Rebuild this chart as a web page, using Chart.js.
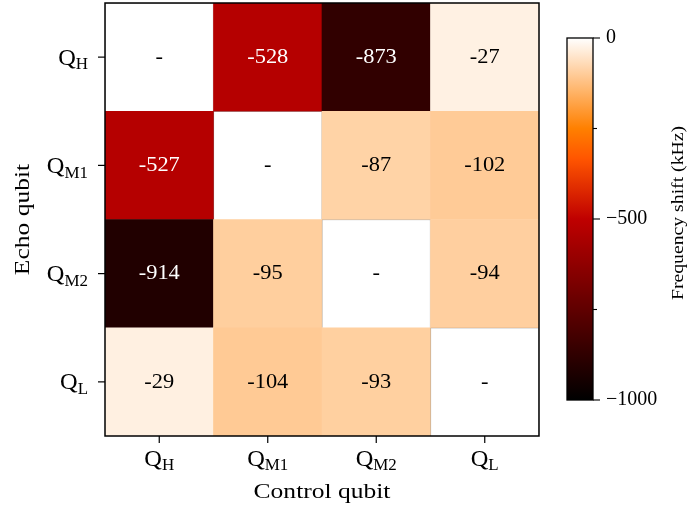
<!DOCTYPE html>
<html>
<head>
<meta charset="utf-8">
<script src="https://cdn.jsdelivr.net/npm/chart.js"></script>
<style>
  body { margin: 0; background: #fff; }
  #wrap { position: relative; width: 688px; height: 510px; }
  #heat { position: absolute; left: 0; top: 0; }
  #cbar { position: absolute; left: 540px; top: 0; }
</style>
</head>
<body>
<div id="wrap">
  <canvas id="heat" width="688" height="510"></canvas>
  <canvas id="cbar" width="148" height="510"></canvas>
</div>
<script>
// qubit labels: Q with a subscript
const controlQubits = ['H', 'M1', 'M2', 'L'];
const echoQubits = ['H', 'M1', 'M2', 'L'];   // rows, top to bottom

// frequency shift (kHz), row = echo qubit, column = control qubit
const rowQH  = [null, -528, -873, -27];
const rowQM1 = [-527, null, -87, -102];
const rowQM2 = [-914, -95, null, -94];
const rowQL  = [-29, -104, -93, null];
const shifts = [rowQH, rowQM1, rowQM2, rowQL];

const cbarMin = -1000;
const cbarMax = 0;
const cbarMajorTicks = [-1000, -500, 0];
const cbarMinorTicks = [-750, -250];

const SERIF = '"Liberation Serif", "DejaVu Serif", serif';
const STRETCH = 1.16;   // Times is narrower than Computer Modern

// matplotlib gist_heat
function gistHeat(t) {
    const c = v => Math.round(255 * Math.min(1, Math.max(0, v)));
    return `rgb(${c(1.5 * t)}, ${c(2 * t - 1)}, ${c(4 * t - 3)})`;
}
function colorFor(v) {
    if (v === null) return '#ffffff';
    return gistHeat((v - cbarMin) / (cbarMax - cbarMin));
}

// centred text, optionally a little wider
function wideText(ctx, txt, x, y, size, stretch) {
    ctx.save();
    ctx.translate(x, y);
    ctx.scale(stretch || STRETCH, 1);
    ctx.font = size + 'px ' + SERIF;
    ctx.textAlign = 'center';
    ctx.textBaseline = 'middle';
    ctx.fillText(txt, 0, 0);
    ctx.restore();
}

// draw Q with a roman subscript, anchored by align at (x, y middle)
function drawQ(ctx, sub, x, y, align, size) {
    const subSize = Math.round(size * 0.7);
    ctx.save();
    ctx.font = size + 'px ' + SERIF;
    const wq = ctx.measureText('Q').width * 1.06;
    ctx.font = subSize + 'px ' + SERIF;
    const ws = ctx.measureText(sub).width * 1.06;
    const total = wq + ws;
    let x0 = x;
    if (align === 'right') x0 = x - total;
    if (align === 'center') x0 = x - total / 2;
    const base = y + size * 0.33;
    ctx.translate(x0, base);
    ctx.scale(1.06, 1);
    ctx.textAlign = 'left';
    ctx.textBaseline = 'alphabetic';
    ctx.fillStyle = '#000';
    ctx.font = size + 'px ' + SERIF;
    ctx.fillText('Q', 0, 0);
    ctx.font = subSize + 'px ' + SERIF;
    ctx.fillText(sub, wq / 1.06, size * 0.2);
    ctx.restore();
}

// one stacked dataset per row, bottom row first
const rowsBottomUp = shifts.map((row, r) => ({ row, r })).reverse();
const heatDatasets = rowsBottomUp.map(({ row, r }) => ({
    label: 'Q' + echoQubits[r],
    data: row.map(() => 1),
    shifts: row,
    backgroundColor: row.map(v => colorFor(v)),
    borderColor: row.map(v => v === null ? 'rgba(0,0,0,0.22)' : 'rgba(0,0,0,0)'),
    borderWidth: row.map(v => v === null ? 1 : 0),
    barPercentage: 1,
    categoryPercentage: 1
}));

const heatPlugin = {
    id: 'heatDecor',
    afterDatasetsDraw(chart) {
        const ctx = chart.ctx;
        const area = chart.chartArea;
        const xs = chart.scales.x;
        const ys = chart.scales.y;
        ctx.save();

        // cell annotations
        chart.data.datasets.forEach((ds, d) => {
            const meta = chart.getDatasetMeta(d);
            meta.data.forEach((bar, i) => {
                const v = ds.shifts[i];
                const cy = (bar.y + bar.base) / 2;
                ctx.fillStyle = (v !== null && v < -500) ? '#fff' : '#000';
                wideText(ctx, v === null ? '-' : String(v), bar.x, cy, 22, 1.02);
            });
        });

        // frame
        ctx.strokeStyle = '#000';
        ctx.lineWidth = 1.5;
        ctx.strokeRect(area.left, area.top, area.right - area.left, area.bottom - area.top);

        // x ticks and labels
        ctx.lineWidth = 1.2;
        controlQubits.forEach((q, i) => {
            const px = xs.getPixelForValue(i);
            ctx.beginPath();
            ctx.moveTo(px, area.bottom);
            ctx.lineTo(px, area.bottom + 7);
            ctx.stroke();
            drawQ(ctx, q, px, area.bottom + 22, 'center', 23);
        });

        // y ticks and labels
        echoQubits.forEach((q, r) => {
            const py = ys.getPixelForValue(echoQubits.length - r - 0.5);
            ctx.beginPath();
            ctx.moveTo(area.left, py);
            ctx.lineTo(area.left - 7, py);
            ctx.stroke();
            drawQ(ctx, q, area.left - 17, py, 'right', 23);
        });

        // axis titles
        ctx.fillStyle = '#000';
        wideText(ctx, 'Control qubit', (area.left + area.right) / 2, 492, 22);
        ctx.translate(23, (area.top + area.bottom) / 2);
        ctx.rotate(-Math.PI / 2);
        wideText(ctx, 'Echo qubit', 0, 0, 22);
        ctx.restore();
    }
};

new Chart(document.getElementById('heat'), {
    type: 'bar',
    data: {
        labels: controlQubits.map(q => 'Q' + q),
        datasets: heatDatasets
    },
    options: {
        responsive: false,
        devicePixelRatio: 1,
        animation: false,
        layout: { padding: { left: 105, top: 3, right: 149, bottom: 74 } },
        plugins: { legend: { display: false }, tooltip: { enabled: false } },
        scales: {
            x: { stacked: true, display: false },
            y: { stacked: true, display: false, min: 0, max: echoQubits.length }
        }
    },
    plugins: [heatPlugin]
});

// colorbar
const cbarPlugin = {
    id: 'cbarDecor',
    afterDatasetsDraw(chart) {
        const ctx = chart.ctx;
        const area = chart.chartArea;
        const ys = chart.scales.y;
        ctx.save();
        ctx.strokeStyle = '#000';
        ctx.lineWidth = 1.3;
        ctx.strokeRect(area.left, area.top, area.right - area.left, area.bottom - area.top);

        ctx.lineWidth = 1.1;
        cbarMinorTicks.forEach(v => {
            const py = ys.getPixelForValue(v);
            ctx.beginPath();
            ctx.moveTo(area.right, py);
            ctx.lineTo(area.right + 4, py);
            ctx.stroke();
        });
        ctx.font = '20px ' + SERIF;
        ctx.fillStyle = '#000';
        ctx.textAlign = 'left';
        ctx.textBaseline = 'middle';
        cbarMajorTicks.forEach(v => {
            const py = ys.getPixelForValue(v);
            ctx.beginPath();
            ctx.moveTo(area.right, py);
            ctx.lineTo(area.right + 7, py);
            ctx.stroke();
            const txt = v < 0 ? '\u2212' + Math.abs(v) : String(v);
            ctx.fillText(txt, area.right + 13, py);
        });

        ctx.translate(139, (area.top + area.bottom) / 2 - 6);
        ctx.rotate(-Math.PI / 2);
        wideText(ctx, 'Frequency shift (kHz)', 0, 0, 17);
        ctx.restore();
    }
};

new Chart(document.getElementById('cbar'), {
    type: 'bar',
    data: {
        labels: [''],
        datasets: [{
            data: [[cbarMin, cbarMax]],
            barPercentage: 1,
            categoryPercentage: 1,
            backgroundColor(c) {
                const area = c.chart.chartArea;
                if (!area) return '#888';
                const g = c.chart.ctx.createLinearGradient(0, area.bottom, 0, area.top);
                for (let k = 0; k <= 60; k++) {
                    g.addColorStop(k / 60, gistHeat(k / 60));
                }
                return g;
            }
        }]
    },
    options: {
        responsive: false,
        devicePixelRatio: 1,
        animation: false,
        layout: { padding: { left: 27, top: 38, right: 95, bottom: 110 } },
        plugins: { legend: { display: false }, tooltip: { enabled: false } },
        scales: {
            x: { display: false },
            y: { display: false, min: cbarMin, max: cbarMax }
        }
    },
    plugins: [cbarPlugin]
});
</script>
</body>
</html>
